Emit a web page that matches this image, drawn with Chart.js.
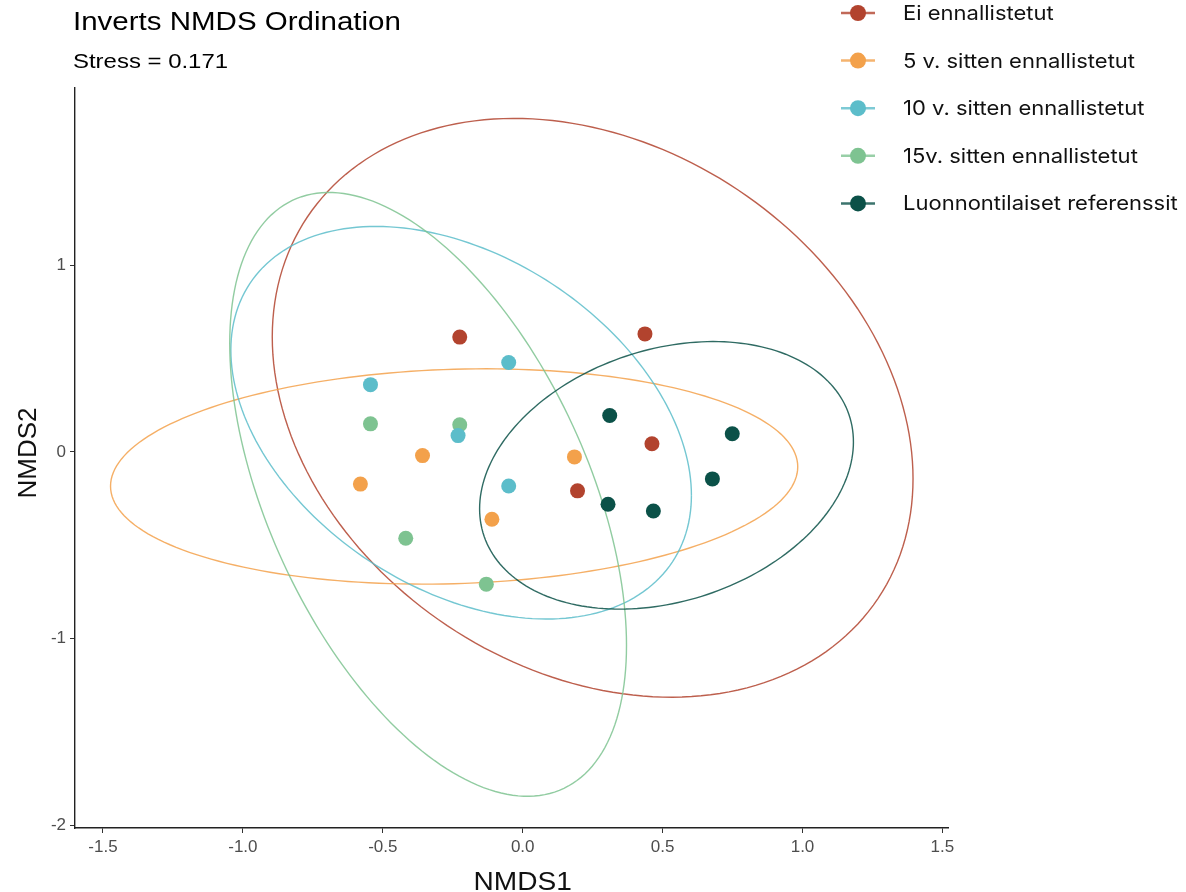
<!DOCTYPE html>
<html>
<head>
<meta charset="utf-8">
<title>Inverts NMDS Ordination</title>
<script src="https://cdn.jsdelivr.net/npm/chart.js@4"></script>
<style>
  html, body { margin: 0; padding: 0; background: #fff; }
  #wrap { width: 1186px; height: 892px; }
</style>
</head>
<body>
<div id="wrap"><canvas id="nmdsChart" width="1186" height="892"></canvas></div>
<script>
// group names and colours
const groups = [
  'Ei ennallistetut',
  '5 v. sitten ennallistetut',
  '10 v. sitten ennallistetut',
  '15v. sitten ennallistetut',
  'Luonnontilaiset referenssit'
];
const colors = ['#b2432e', '#f3a14b', '#5cbdca', '#7ec391', '#0b5148'];

// site scores per group
const eiNMDS1 = [-0.225, 0.437, 0.462, 0.196];
const eiNMDS2 = [0.615, 0.632, 0.043, -0.209];
const v5NMDS1 = [0.185, -0.358, -0.580, -0.110];
const v5NMDS2 = [-0.027, -0.020, -0.173, -0.361];
const v10NMDS1 = [-0.050, -0.544, -0.231, -0.050];
const v10NMDS2 = [0.479, 0.360, 0.087, -0.183];
const v15NMDS1 = [-0.544, -0.225, -0.418, -0.130];
const v15NMDS2 = [0.150, 0.145, -0.463, -0.709];
const refNMDS1 = [0.311, 0.749, 0.678, 0.305, 0.467];
const refNMDS2 = [0.195, 0.097, -0.145, -0.281, -0.317];

// group ellipses: centre, half extents along NMDS1 / NMDS2, correlation
const ellCenter1 = [0.250, -0.245, -0.220, -0.338, 0.514];
const ellCenter2 = [0.236, -0.132, 0.156, -0.228, -0.126];
const ellHalf1 = [1.145, 1.228, 0.823, 0.709, 0.668];
const ellHalf2 = [1.551, 0.577, 1.052, 1.618, 0.717];
const ellRho = [-0.245, 0.09, -0.37, -0.50, 0.25];

const xTicks = [-1.5, -1.0, -0.5, 0.0, 0.5, 1.0, 1.5];
const yTicks = [-2, -1, 0, 1];

const xs = [eiNMDS1, v5NMDS1, v10NMDS1, v15NMDS1, refNMDS1];
const ys = [eiNMDS2, v5NMDS2, v10NMDS2, v15NMDS2, refNMDS2];

const datasets = groups.map((g, i) => ({
  label: g,
  data: xs[i].map((x, j) => ({ x, y: ys[i][j] })),
  backgroundColor: colors[i],
  borderWidth: 0,
  pointRadius: 7.5,
  pointHoverRadius: 7.5
}));

const narrow = '"Liberation Sans Narrow", "Liberation Sans", Arial, sans-serif';
const sans = '"Liberation Sans", Arial, sans-serif';

const ellipsePlugin = {
  id: 'ellipses',
  beforeDatasetsDraw(chart) {
    const { ctx, scales: { x, y } } = chart;
    ctx.save();
    ctx.globalAlpha = 0.85;
    for (let i = 0; i < groups.length; i++) {
      const s = Math.sqrt(1 - ellRho[i] * ellRho[i]);
      ctx.beginPath();
      for (let k = 0; k <= 200; k++) {
        const t = (k / 200) * Math.PI * 2;
        const dx = ellCenter1[i] + ellHalf1[i] * Math.cos(t);
        const dy = ellCenter2[i] + ellHalf2[i] * (ellRho[i] * Math.cos(t) + s * Math.sin(t));
        const px = x.getPixelForValue(dx);
        const py = y.getPixelForValue(dy);
        if (k === 0) ctx.moveTo(px, py); else ctx.lineTo(px, py);
      }
      ctx.strokeStyle = colors[i];
      ctx.lineWidth = 1.4;
      ctx.stroke();
    }
    ctx.restore();
  }
};

// text drawn slightly widened, like the rest of the figure
function wideText(ctx, str, x, y, sx, rot) {
  ctx.save();
  ctx.translate(x, y);
  if (rot) ctx.rotate(rot);
  ctx.scale(sx, 1);
  ctx.fillText(str, 0, 0);
  ctx.restore();
}

const textPlugin = {
  id: 'texts',
  afterDraw(chart) {
    const { ctx, scales: { x, y } } = chart;
    ctx.save();
    ctx.fillStyle = '#000';
    ctx.textBaseline = 'alphabetic';
    ctx.textAlign = 'left';
    ctx.font = '25px ' + sans;
    wideText(ctx, 'Inverts NMDS Ordination', 73, 30, 1.18);
    ctx.font = '21px ' + sans;
    wideText(ctx, 'Stress = 0.171', 73, 68, 1.14);

    // axis titles
    ctx.fillStyle = '#111';
    ctx.textAlign = 'center';
    ctx.font = '26px ' + narrow;
    wideText(ctx, 'NMDS1', x.getPixelForValue(0), 890, 1.08);
    wideText(ctx, 'NMDS2', 36, (y.top + y.bottom) / 2 - 5, 1.0, -Math.PI / 2);

    // legend
    ctx.textAlign = 'left';
    ctx.font = '20px Inter, "Noto Sans", sans-serif';
    ctx.textBaseline = 'middle';
    groups.forEach((g, i) => {
      const cy = 13 + i * 47.6;
      ctx.globalAlpha = 0.8;
      ctx.strokeStyle = colors[i];
      ctx.lineWidth = 2.5;
      ctx.beginPath();
      ctx.moveTo(841, cy);
      ctx.lineTo(875, cy);
      ctx.stroke();
      ctx.globalAlpha = 1;
      ctx.fillStyle = colors[i];
      ctx.beginPath();
      ctx.arc(858, cy, 8, 0, Math.PI * 2);
      ctx.fill();
      ctx.fillStyle = '#111';
      wideText(ctx, g, 903, cy + 1, 1.1);
    });
    ctx.restore();
  }
};

new Chart(document.getElementById('nmdsChart'), {
  type: 'scatter',
  data: { datasets },
  options: {
    responsive: false,
    animation: false,
    layout: { padding: { top: 88, right: 238, left: 0, bottom: 0 } },
    plugins: {
      legend: { display: false },
      tooltip: { enabled: false }
    },
    scales: {
      x: {
        type: 'linear',
        min: -1.6,
        max: 1.52,
        afterBuildTicks: s => { s.ticks = xTicks.map(v => ({ value: v })); },
        afterFit: s => { s.height = 64; },
        ticks: {
          callback: v => v.toFixed(1),
          color: '#4d4d4d',
          font: { family: narrow, size: 17 },
          padding: 4,
          maxRotation: 0
        },
        grid: { drawOnChartArea: false, tickLength: 5, color: '#333' },
        border: { color: '#222', width: 1.4 }
      },
      y: {
        type: 'linear',
        min: -2.016,
        max: 1.95,
        afterBuildTicks: s => { s.ticks = yTicks.map(v => ({ value: v })); },
        afterFit: s => { s.width = 75; },
        ticks: {
          callback: v => String(v),
          color: '#4d4d4d',
          font: { family: narrow, size: 17 },
          padding: 4
        },
        grid: { drawOnChartArea: false, tickLength: 5, color: '#333' },
        border: { color: '#222', width: 1.4 }
      }
    }
  },
  plugins: [ellipsePlugin, textPlugin]
});
</script>
</body>
</html>
